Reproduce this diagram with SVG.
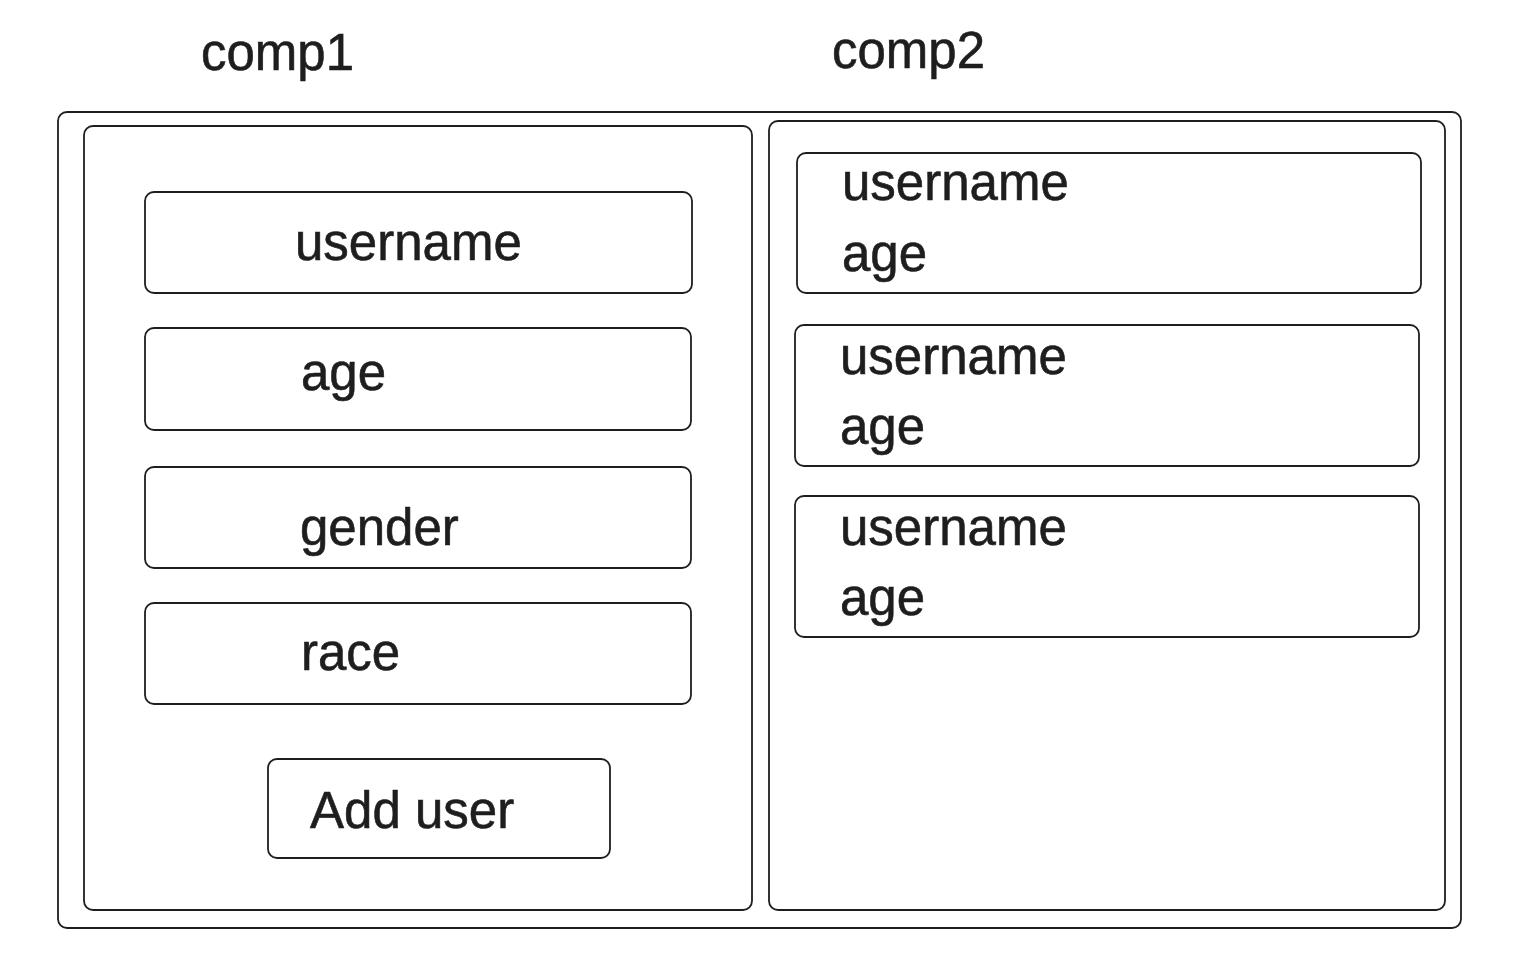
<svg xmlns="http://www.w3.org/2000/svg" width="1530" height="956" viewBox="0 0 1530 956">
<style>
.box{fill:#fff;stroke:#1e1e1e;stroke-width:1.8;}
.t{font-family:"Liberation Sans",Arial,sans-serif;font-size:51px;fill:#1e1e1e;stroke:#1e1e1e;stroke-width:0.6;}
</style>
<rect width="1530" height="956" fill="#fff"/>
<text class="t" x="201" y="70">comp1</text>
<text class="t" x="832" y="68">comp2</text>
<g id="outer"><rect class="box" x="58" y="112" width="1403" height="816" rx="9"/></g>
<g id="comp1"><rect class="box" x="84" y="126" width="668" height="784" rx="9"/></g>
<g id="comp2"><rect class="box" x="769" y="121" width="676" height="789" rx="9"/></g>
<g id="f-username"><rect class="box" x="145" y="192" width="547" height="101" rx="9"/><text class="t" x="295" y="260">username</text></g>
<g id="f-age"><rect class="box" x="145" y="328" width="546" height="102" rx="9"/><text class="t" x="301" y="390">age</text></g>
<g id="f-gender"><rect class="box" x="145" y="467" width="546" height="101" rx="9"/><text class="t" x="300" y="545">gender</text></g>
<g id="f-race"><rect class="box" x="145" y="603" width="546" height="101" rx="9"/><text class="t" x="301" y="670">race</text></g>
<g id="btn-add"><rect class="box" x="268" y="759" width="342" height="99" rx="9"/><text class="t" x="310" y="828">Add user</text></g>
<g id="card1"><rect class="box" x="797" y="153" width="624" height="140" rx="9"/><text class="t" x="842" y="200">username</text><text class="t" x="842" y="271">age</text></g>
<g id="card2"><rect class="box" x="795" y="325" width="624" height="141" rx="9"/><text class="t" x="840" y="374">username</text><text class="t" x="840" y="444">age</text></g>
<g id="card3"><rect class="box" x="795" y="496" width="624" height="141" rx="9"/><text class="t" x="840" y="545">username</text><text class="t" x="840" y="615">age</text></g>
<g id="connectors"></g>
</svg>
